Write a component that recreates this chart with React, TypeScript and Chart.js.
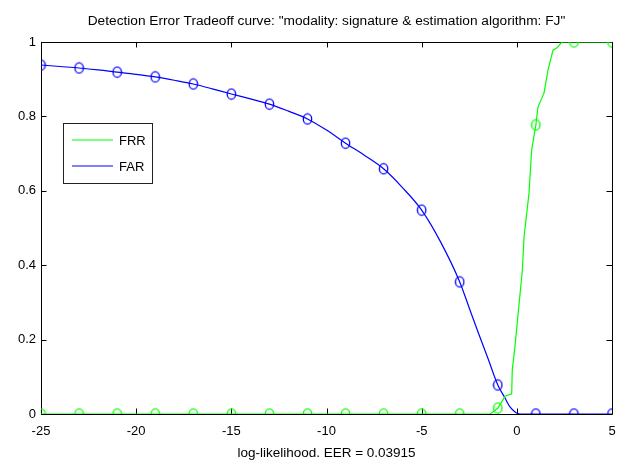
import React, { useEffect, useRef } from "react";
import { Chart, registerables } from "chart.js";

Chart.register(...registerables);

const TITLE = 'Detection Error Tradeoff curve: "modality: signature & estimation algorithm: FJ"';
const X_LABEL = "log-likelihood. EER = 0.03915";

const X_TICKS = [-25, -20, -15, -10, -5, 0, 5];
const Y_TICKS = [0, 0.2, 0.4, 0.6, 0.8, 1];

// False acceptance rate along the threshold sweep
const FAR_X = [-25, -24, -23, -22, -21, -20, -19, -18, -17, -16, -15, -14, -13, -12, -11, -10, -9, -8, -7, -6, -5, -4, -3, -2.5, -2, -1.5, -1, -0.62, -0.36, 0.17, 1, 3, 5];
const FAR_Y = [0.938, 0.934, 0.93, 0.925, 0.919, 0.913, 0.906, 0.897, 0.887, 0.874, 0.86, 0.847, 0.833, 0.814, 0.793, 0.763, 0.728, 0.695, 0.659, 0.608, 0.548, 0.462, 0.355, 0.285, 0.215, 0.147, 0.078, 0.043, 0.019, 0, 0, 0, 0];

// False rejection rate along the threshold sweep
const FRR_X = [-25, -1.4, -0.99, -0.62, -0.27, -0.24, -0.1, 0.29, 0.38, 0.64, 0.78, 1, 1.11, 1.43, 1.64, 1.9, 2.11, 2.37, 3, 5];
const FRR_Y = [0, 0, 0.016, 0.048, 0.054, 0.118, 0.181, 0.387, 0.476, 0.594, 0.71, 0.777, 0.825, 0.863, 0.925, 0.978, 0.984, 1, 1, 1];

// Marker positions (every 2 units of log-likelihood)
const MARK_X = [-25, -23, -21, -19, -17, -15, -13, -11, -9, -7, -5, -3, -1, 1, 3, 5];
const FAR_MARK = [0.938, 0.93, 0.919, 0.906, 0.887, 0.86, 0.833, 0.793, 0.728, 0.659, 0.548, 0.355, 0.078, 0, 0, 0];
const FRR_MARK = [0, 0, 0, 0, 0, 0, 0, 0, 0, 0, 0, 0, 0.016, 0.777, 1, 1];

const GREEN = "#00ff00";
const BLUE = "#0000ff";
const FONT = '"Liberation Sans Narrow", "Arial Narrow", "Liberation Sans", Arial, sans-serif';

function ring(color: string): HTMLCanvasElement {
  const c = document.createElement("canvas");
  c.width = 11;
  c.height = 13;
  const g = c.getContext("2d")!;
  g.strokeStyle = color;
  g.lineWidth = 1.3;
  g.beginPath();
  g.ellipse(5.5, 6.5, 4.2, 5.2, 0, 0, Math.PI * 2);
  g.stroke();
  return c;
}

// Box around the plot area with inward tick marks on all four sides
const axesBox = {
  id: "axesBox",
  beforeDatasetsDraw(chart: any) {
    const { ctx, chartArea: a, scales } = chart;
    const tl = 5.5;
    ctx.save();
    ctx.strokeStyle = "#000";
    ctx.lineWidth = 1;
    ctx.beginPath();
    ctx.rect(Math.round(a.left) + 0.5, Math.round(a.top) + 0.5, Math.round(a.right - a.left), Math.round(a.bottom - a.top));
    for (const v of X_TICKS) {
      const x = Math.round(scales.x.getPixelForValue(v)) + 0.5;
      ctx.moveTo(x, a.bottom);
      ctx.lineTo(x, a.bottom - tl);
      ctx.moveTo(x, a.top);
      ctx.lineTo(x, a.top + tl);
    }
    for (const v of Y_TICKS) {
      const y = Math.round(scales.y.getPixelForValue(v)) + 0.5;
      ctx.moveTo(a.left, y);
      ctx.lineTo(a.left + tl, y);
      ctx.moveTo(a.right, y);
      ctx.lineTo(a.right - tl, y);
    }
    ctx.stroke();
    ctx.restore();
  },
};

// Legend box in the upper-left of the plot
const boxLegend = {
  id: "boxLegend",
  afterDatasetsDraw(chart: any) {
    const { ctx } = chart;
    const items = chart.data.datasets.filter((d: any) => d.showLine);
    const x0 = 63.5, y0 = 123.5, w = 89, h = 60;
    ctx.save();
    ctx.fillStyle = "#fff";
    ctx.fillRect(x0, y0, w, h);
    ctx.strokeStyle = "#222";
    ctx.lineWidth = 1;
    ctx.strokeRect(x0, y0, w, h);
    ctx.font = `13px ${FONT}`;
    ctx.textBaseline = "middle";
    ctx.textAlign = "left";
    items.forEach((d: any, i: number) => {
      const y = 140 + i * 26;
      ctx.strokeStyle = d.borderColor;
      ctx.lineWidth = 1.2;
      ctx.beginPath();
      ctx.moveTo(72, y);
      ctx.lineTo(113, y);
      ctx.stroke();
      ctx.fillStyle = "#000";
      ctx.fillText(d.label, 119, y + 1);
    });
    ctx.restore();
  },
};

const noPad = (s: any) => {
  s.paddingLeft = 0;
  s.paddingRight = 0;
  s.paddingTop = 0;
  s.paddingBottom = 0;
};

export default function App() {
  const ref = useRef<HTMLCanvasElement>(null);

  useEffect(() => {
    const canvas = ref.current;
    if (!canvas) return;
    const tickFont = { family: FONT, size: 13 };
    const chart = new Chart(canvas, {
      type: "scatter",
      data: {
        datasets: [
          {
            label: "FRR",
            data: FRR_X.map((x, i) => ({ x, y: FRR_Y[i] })),
            showLine: true,
            borderColor: GREEN,
            borderWidth: 1.2,
            pointRadius: 0,
          },
          {
            label: "FAR",
            data: FAR_X.map((x, i) => ({ x, y: FAR_Y[i] })),
            showLine: true,
            borderColor: BLUE,
            borderWidth: 1.2,
            pointRadius: 0,
            cubicInterpolationMode: "monotone",
          },
          {
            label: "FRR marks",
            data: MARK_X.map((x, i) => ({ x, y: FRR_MARK[i] })),
            showLine: false,
            pointStyle: ring(GREEN),
            borderColor: GREEN,
          },
          {
            label: "FAR marks",
            data: MARK_X.map((x, i) => ({ x, y: FAR_MARK[i] })),
            showLine: false,
            pointStyle: ring(BLUE),
            borderColor: BLUE,
          },
        ] as any,
      },
      options: {
        responsive: false,
        animation: false,
        events: [],
        layout: { padding: { left: 0, right: 6, top: 0, bottom: 0 } },
        plugins: {
          legend: { display: false },
          tooltip: { enabled: false },
          title: {
            display: true,
            fullSize: false,
            text: TITLE,
            color: "#000",
            font: { family: FONT, size: 13.7, weight: "normal" },
            padding: { top: 13, bottom: 12.5 },
          },
        },
        scales: {
          x: {
            type: "linear",
            min: -25,
            max: 5,
            afterBuildTicks: (s: any) => {
              s.ticks = X_TICKS.map((value) => ({ value }));
            },
            grid: { display: false, drawTicks: false },
            border: { display: false },
            ticks: { color: "#000", font: tickFont, padding: 9.5, maxRotation: 0, autoSkip: false, callback: (v: any) => `${+v}` },
            title: {
              display: true,
              text: X_LABEL,
              color: "#000",
              font: { family: FONT, size: 13.5 },
              padding: { top: 0, bottom: 5 },
            },
            afterFit: (s: any) => {
              s.height = 52;
              noPad(s);
            },
          },
          y: {
            type: "linear",
            min: 0,
            max: 1,
            afterBuildTicks: (s: any) => {
              s.ticks = Y_TICKS.map((value) => ({ value }));
            },
            grid: { display: false, drawTicks: false },
            border: { display: false },
            ticks: { color: "#000", font: tickFont, padding: 5, callback: (v: any) => `${+v}` },
            afterFit: (s: any) => {
              s.width = 41;
              noPad(s);
            },
          },
        },
      },
      plugins: [axesBox, boxLegend],
    });
    return () => chart.destroy();
  }, []);

  return (
    <div style={{ position: "fixed", left: 0, top: 0, width: 618, height: 466, background: "#fff" }}>
      <canvas ref={ref} width={618} height={466} style={{ display: "block" }} />
    </div>
  );
}
